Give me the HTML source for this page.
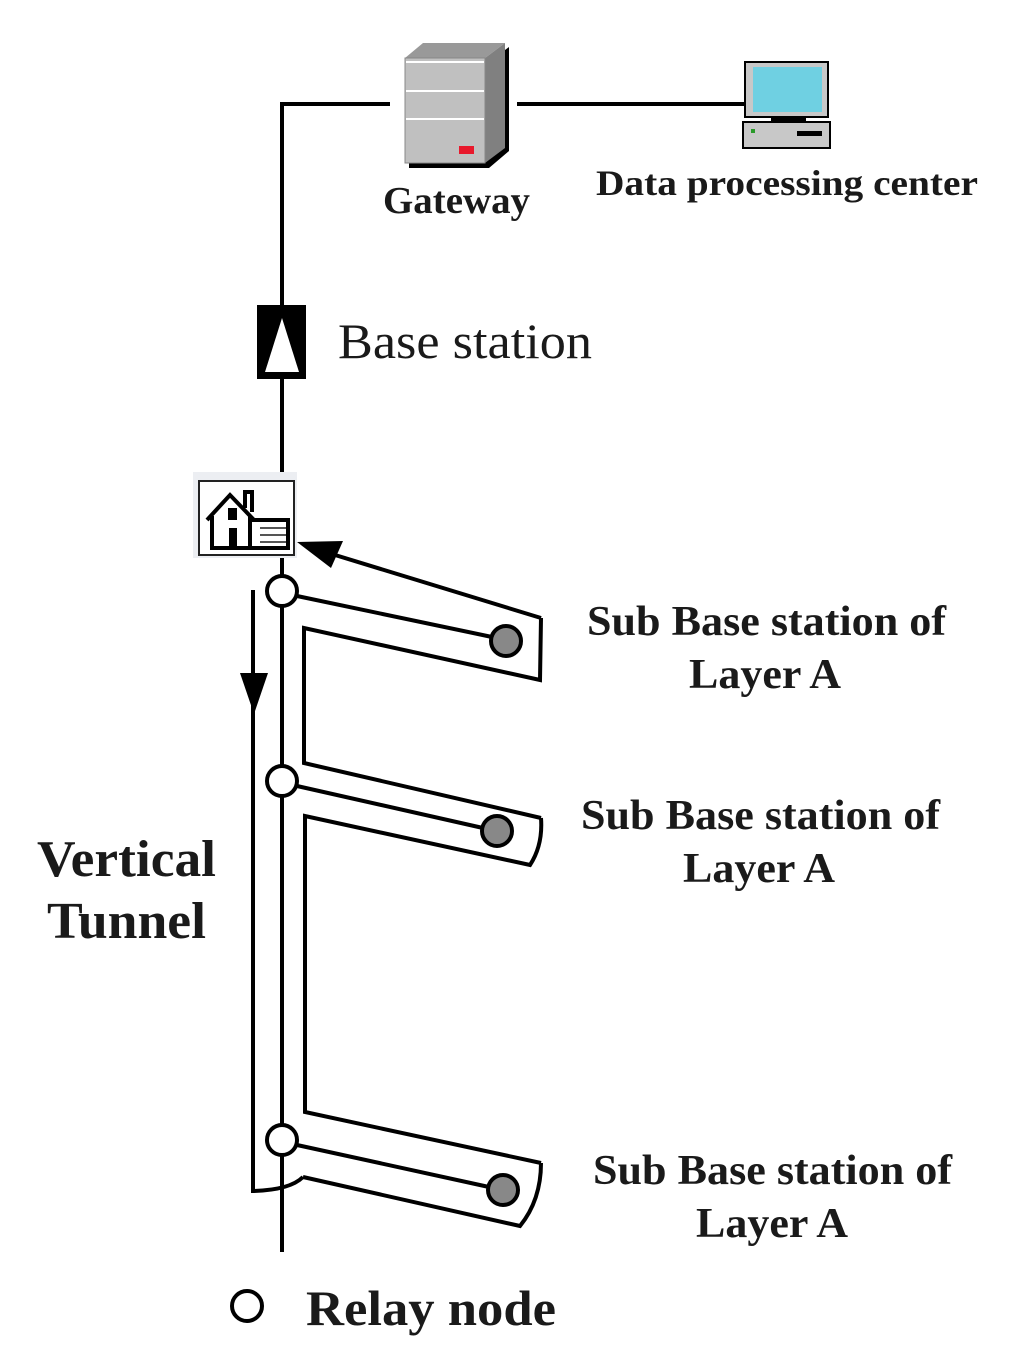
<!DOCTYPE html>
<html><head><meta charset="utf-8"><style>
body{margin:0;background:#fff}
svg{display:block}
.b{font-family:"Liberation Serif",serif;font-weight:bold;fill:#1a1a1a}
</style></head><body>
<svg width="1024" height="1365" viewBox="0 0 1024 1365" xmlns="http://www.w3.org/2000/svg">
<g stroke="#000" stroke-width="4" fill="none">
<polyline points="390,104 282,104 282,1252"/>
<line x1="517" y1="104" x2="745" y2="104"/>
</g>
<!-- server -->
<polygon points="409,62 489,62 509,47 509,151 489,168 409,168" fill="#000"/>
<polygon points="405,58 423,43 505,43 485,58" fill="#999"/>
<polygon points="485,58 505,43 505,148 485,163" fill="#808080"/>
<rect x="405" y="58" width="80" height="105" fill="#c0c0c0" stroke="#888" stroke-width="1"/>
<line x1="406" y1="62" x2="484" y2="62" stroke="#fff" stroke-width="2"/>
<line x1="406" y1="91" x2="484" y2="91" stroke="#fff" stroke-width="2"/>
<line x1="406" y1="119" x2="484" y2="119" stroke="#fff" stroke-width="2"/>
<rect x="459" y="146" width="15" height="8" fill="#e8192c"/>
<!-- PC -->
<rect x="745" y="62" width="83" height="55" fill="#c8c8c8" stroke="#000" stroke-width="2"/>
<rect x="753" y="67" width="69" height="45" fill="#6fd0e2"/>
<rect x="771" y="117" width="35" height="5" fill="#000"/>
<rect x="743" y="122" width="87" height="26" fill="#c8c8c8" stroke="#000" stroke-width="2"/>
<rect x="751" y="129" width="4" height="4" fill="#2a9a2a"/>
<rect x="797" y="131" width="25" height="5" fill="#000"/>
<text x="383" y="213" class="b" font-size="38" textLength="147" lengthAdjust="spacingAndGlyphs">Gateway</text>
<text x="596" y="195" class="b" font-size="36" textLength="382" lengthAdjust="spacingAndGlyphs">Data processing center</text>
<!-- base station -->
<rect x="257" y="305" width="49" height="74" fill="#000"/>
<polygon points="282,318 265,372 299,372" fill="#fff"/>
<text x="338" y="358" font-family="Liberation Serif,serif" font-size="50" fill="#1a1a1a" textLength="254" lengthAdjust="spacingAndGlyphs">Base station</text>
<!-- house -->
<rect x="193" y="472" width="104" height="86" fill="#eceef2"/>
<rect x="199" y="481" width="95" height="74" fill="#fff" stroke="#222" stroke-width="2"/>
<g stroke="#000" stroke-width="4" fill="none">
<polyline points="207,520 230,495 254,520"/>
<polyline points="212,516 212,548 250,548 250,516"/>
<polyline points="245,508 245,492 252,492 252,512"/>
<polyline points="250,520 288,520 288,548 250,548"/>
</g>
<rect x="228" y="508" width="9" height="12" fill="#000"/>
<rect x="229" y="528" width="8" height="20" fill="#000"/>
<g stroke="#555" stroke-width="2"><line x1="260" y1="528" x2="286" y2="528"/><line x1="260" y1="535" x2="286" y2="535"/><line x1="260" y1="542" x2="286" y2="542"/></g>
<!-- tunnel shapes -->
<g stroke="#000" stroke-width="4" fill="none">
<line x1="541" y1="618" x2="322" y2="551"/>
<polyline points="541,618 540,680 304,628 304,763 541,818"/>
<path d="M541,818 Q543,845 530,865 L305,816 L305,1112 L541,1163"/>
<path d="M541,1163 Q541,1200 520,1226 L303,1177"/>
<path d="M303,1177 Q290,1190 253,1191 L253,590"/>
<line x1="297" y1="596" x2="492" y2="637"/>
<line x1="297" y1="786" x2="483" y2="828"/>
<line x1="297" y1="1145" x2="489" y2="1187"/>
</g>
<polygon points="297,542 343,541 331,568" fill="#000"/>
<polygon points="240,673 268,673 254,714" fill="#000"/>
<g stroke="#000" stroke-width="4">
<circle cx="282" cy="591" r="15" fill="#fff"/>
<circle cx="282" cy="781" r="15" fill="#fff"/>
<circle cx="282" cy="1140" r="15" fill="#fff"/>
<circle cx="506" cy="641" r="15" fill="#888"/>
<circle cx="497" cy="831" r="15" fill="#888"/>
<circle cx="503" cy="1190" r="15" fill="#888"/>
<circle cx="247" cy="1306" r="15" fill="#fff"/>
</g>
<g class="b" font-size="42">
<text x="587" y="635" textLength="359" lengthAdjust="spacingAndGlyphs">Sub Base station of</text>
<text x="689" y="688" textLength="152" lengthAdjust="spacingAndGlyphs">Layer A</text>
<text x="581" y="829" textLength="359" lengthAdjust="spacingAndGlyphs">Sub Base station of</text>
<text x="683" y="882" textLength="152" lengthAdjust="spacingAndGlyphs">Layer A</text>
<text x="593" y="1184" textLength="359" lengthAdjust="spacingAndGlyphs">Sub Base station of</text>
<text x="696" y="1237" textLength="152" lengthAdjust="spacingAndGlyphs">Layer A</text>
</g>
<text x="37" y="876" class="b" font-size="52" textLength="179" lengthAdjust="spacingAndGlyphs">Vertical</text>
<text x="47" y="938" class="b" font-size="52" textLength="159" lengthAdjust="spacingAndGlyphs">Tunnel</text>
<text x="306" y="1325" class="b" font-size="50" textLength="250" lengthAdjust="spacingAndGlyphs">Relay node</text>
</svg>
</body></html>
